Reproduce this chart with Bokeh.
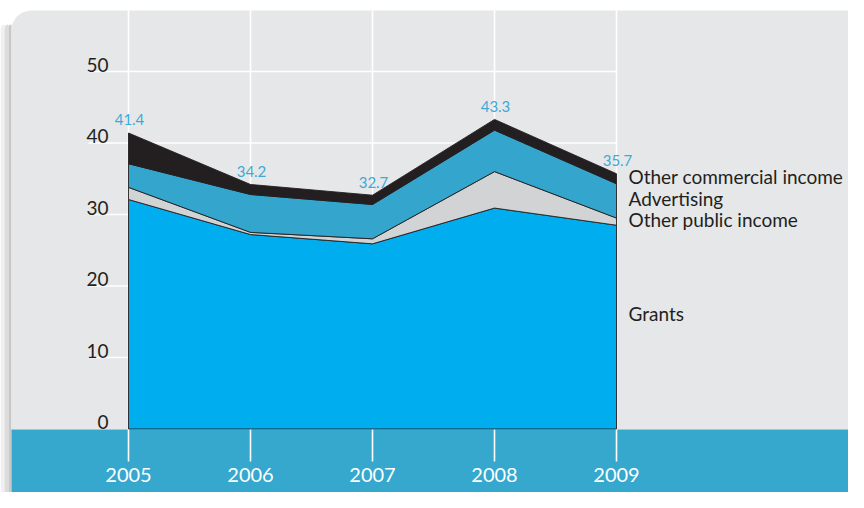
from bokeh.plotting import figure
from bokeh.models import Range1d, BoxAnnotation
from bokeh.core.properties import value
from bokeh.embed import file_html
from bokeh.resources import INLINE

# ---------------- data ----------------
years = [2005, 2006, 2007, 2008, 2009]
grants = [32.1, 27.2, 25.9, 30.9, 28.5]
other_public = [1.7, 0.3, 0.7, 5.1, 1.0]
advertising = [3.3, 5.3, 4.8, 5.8, 4.8]
other_commercial = [4.3, 1.4, 1.3, 1.5, 1.4]
total_labels = ["41.4", "34.2", "32.7", "43.3", "35.7"]
series_names = ["Grants", "Other public income", "Advertising", "Other commercial income"]
y_ticks = [0, 10, 20, 30, 40, 50]
x_tick_labels = ["2005", "2006", "2007", "2008", "2009"]

# ---------------- layout ----------------
W, H = 848, 492
PX_PER_YEAR = 122.0
PX_PER_UNIT = 7.15
X0_CANVAS = 128.0     # canvas x of first year
Y0_CANVAS = 428.5     # canvas y (from top) of value 0

x_start = years[0] - X0_CANVAS / PX_PER_YEAR
x_end = x_start + W / PX_PER_YEAR
y_top = Y0_CANVAS / PX_PER_UNIT
y_bottom = y_top - H / PX_PER_UNIT

def dx(canvas_x):
    return x_start + canvas_x / PX_PER_YEAR

def dy(canvas_y):
    return y_top - canvas_y / PX_PER_UNIT

FONT = "Lato"
DARK = "#231F20"
COLORS = ["#00AEEF", "#D1D3D4", "#34A5CD", "#231F20"]

p = figure(width=W, height=H, output_backend="svg", toolbar_location=None,
           x_range=Range1d(x_start, x_end), y_range=Range1d(y_bottom, y_top),
           min_border=0, min_border_left=0, min_border_right=0,
           min_border_top=0, min_border_bottom=0)
p.axis.visible = False
p.grid.visible = False
p.outline_line_color = None
p.background_fill_color = "white"
p.border_fill_color = "white"

# soft shadow on the left, panel and bottom band
for (l, r, c) in [(0, 4, "#F0F0F0"), (4, 8, "#DCDCDC"), (8, 11, "#C8C8C8")]:
    p.add_layout(BoxAnnotation(left=dx(l), right=dx(r), top=dy(24), bottom=dy(H + 10),
                               fill_color=c, fill_alpha=1, line_color=None,
                               border_radius=(14, 0, 0, 0), level="underlay"))
p.add_layout(BoxAnnotation(left=dx(11), right=dx(W + 40), top=dy(10), bottom=dy(429),
                           fill_color="#E6E7E8", fill_alpha=1, line_color=None,
                           border_radius=(20, 0, 0, 0), level="underlay"))
p.add_layout(BoxAnnotation(left=dx(11), right=dx(W + 40), top=dy(429), bottom=dy(H + 15),
                           fill_color="#36A7CD", fill_alpha=1, line_color=None,
                           border_radius=(0, 0, 0, 14), level="underlay"))

# gridlines
hticks = [t for t in y_ticks if t > 0]
p.segment(x0=[dx(88)] * len(hticks), x1=[years[-1]] * len(hticks),
          y0=hticks, y1=hticks, line_color="white", line_width=1.6)
p.segment(x0=years, x1=years, y0=[dy(10)] * len(years), y1=[dy(461)] * len(years),
          line_color="white", line_width=1.6)

# stacked areas
layers = [grants, other_public, advertising, other_commercial]
bottom = [0.0] * len(years)
tops = []
for vals, col in zip(layers, COLORS):
    top = [b + v for b, v in zip(bottom, vals)]
    xs = years + years[::-1]
    ys = top + bottom[::-1]
    p.patch(xs, ys, fill_color=col, line_color=DARK, line_width=0.9, line_join="miter")
    tops.append((list(bottom), top))
    bottom = top

totals = bottom

# total labels
p.text(x=years, y=totals, text=total_labels, text_font=value(FONT),
       text_font_size="15px", text_color="#3FA9D6", text_align="center",
       text_baseline="middle", y_offset=-13, x_offset=1)

# y tick labels (sit just above their gridline)
p.text(x=[dx(108)] * len(y_ticks), y=y_ticks, text=[str(t) for t in y_ticks],
       text_font=value(FONT), text_font_size="19px", text_color=DARK,
       text_align="right", text_baseline="middle", y_offset=-7)

# x tick labels
p.text(x=years, y=[dy(474)] * len(years), text=x_tick_labels, text_font=value(FONT),
       text_font_size="20px", text_color="white", text_align="center",
       text_baseline="middle")

# series labels at the right end
label_offsets = [-14, -2, -2, -2]
last = len(years) - 1
for (b, t), name, off in zip(tops, series_names, label_offsets):
    mid = (b[last] + t[last]) / 2
    p.text(x=[years[last]], y=[mid], text=[name], text_font=value(FONT),
           text_font_size="19px", text_color=DARK, text_align="left",
           text_baseline="middle", x_offset=12, y_offset=off)

open("out.html", "w").write(file_html(p, INLINE))
